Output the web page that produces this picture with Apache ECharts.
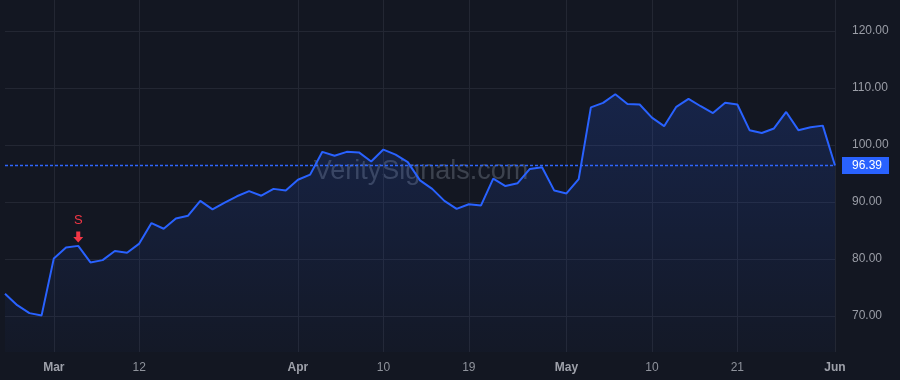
<!DOCTYPE html>
<html>
<head>
<meta charset="utf-8">
<style>
  html, body { margin: 0; padding: 0; background: #131722; }
  #chart { width: 900px; height: 380px; }
</style>
<script src="https://cdn.jsdelivr.net/npm/echarts@6/dist/echarts.min.js"></script>
</head>
<body>
<div id="chart"></div>
<script>
const dates = [
  '2024-02-26','2024-02-27','2024-02-28','2024-02-29',
  '2024-03-01','2024-03-04','2024-03-05','2024-03-06','2024-03-07','2024-03-08',
  '2024-03-11','2024-03-12','2024-03-13','2024-03-14','2024-03-15',
  '2024-03-18','2024-03-19','2024-03-20','2024-03-21','2024-03-22',
  '2024-03-25','2024-03-26','2024-03-27','2024-03-28',
  '2024-04-01','2024-04-02','2024-04-03','2024-04-04','2024-04-05',
  '2024-04-08','2024-04-09','2024-04-10','2024-04-11','2024-04-12',
  '2024-04-15','2024-04-16','2024-04-17','2024-04-18','2024-04-19',
  '2024-04-22','2024-04-23','2024-04-24','2024-04-25','2024-04-26',
  '2024-04-29','2024-04-30',
  '2024-05-01','2024-05-02','2024-05-03',
  '2024-05-06','2024-05-07','2024-05-08','2024-05-09','2024-05-10',
  '2024-05-13','2024-05-14','2024-05-15','2024-05-16','2024-05-17',
  '2024-05-20','2024-05-21','2024-05-22','2024-05-23','2024-05-24',
  '2024-05-28','2024-05-29','2024-05-30','2024-05-31',
  '2024-06-03'
];

const prices = [
  73.9, 71.9, 70.5, 70.1,
  80.1, 82.0, 82.3, 79.4, 79.8, 81.4,
  81.1, 82.7, 86.3, 85.3, 87.1,
  87.6, 90.2, 88.7, 89.9, 91.0,
  91.9, 91.1, 92.3, 92.0,
  93.9, 94.8, 98.8, 98.1, 98.8,
  98.7, 97.1, 99.2, 98.3, 97.0,
  93.8, 92.3, 90.2, 88.8, 89.6,
  89.4, 94.1, 92.8, 93.3, 95.8,
  96.1, 92.0,
  91.5, 94.0, 106.6,
  107.4, 108.9, 107.2, 107.1, 104.8,
  103.3, 106.7, 108.1, 106.8, 105.6,
  107.4, 107.1, 102.6, 102.1, 102.9,
  105.8, 102.6, 103.1, 103.4,
  96.39
];

const xTickDates  = ['2024-03-01','2024-03-12','2024-04-01','2024-04-10','2024-04-19','2024-05-01','2024-05-10','2024-05-21','2024-06-03'];
const xTickLabels = ['Mar','12','Apr','10','19','May','10','21','Jun'];
const monthLabels = ['Mar','Apr','May','Jun'];

const yTicks = [70, 80, 90, 100, 110, 120];
const yMin = 63.68;
const yMax = 125.44;

const signalDate = '2024-03-05';
const signalText = 'S';

const watermark = 'VeritySignals.com';

const lastPrice = prices[prices.length - 1];
const signalIdx = dates.indexOf(signalDate);

const FONT = "'Liberation Sans', Arial, sans-serif";

const chart = echarts.init(document.getElementById('chart'), null, { renderer: 'canvas' });

const isTick = (idx, val) => xTickDates.indexOf(val) !== -1;

chart.setOption({
  backgroundColor: '#131722',
  animation: false,
  textStyle: { fontFamily: FONT },
  grid: { left: 5, right: 65, top: 0, bottom: 28, containLabel: false },
  graphic: [{
    type: 'text',
    x: 421,
    y: 172,
    z: 0,
    style: {
      text: watermark,
      fontSize: 27,
      fontFamily: FONT,
      fill: 'rgba(130,136,150,0.38)',
      textAlign: 'center',
      textVerticalAlign: 'middle'
    }
  }],
  xAxis: {
    type: 'category',
    data: dates,
    boundaryGap: false,
    axisLine: { show: false },
    axisTick: { show: false, interval: isTick },
    splitLine: { show: true, interval: isTick, lineStyle: { color: '#232733', width: 1 } },
    axisLabel: {
      interval: isTick,
      margin: 10,
      formatter: function (val) {
        const i = xTickDates.indexOf(val);
        if (i === -1) return '';
        const t = xTickLabels[i];
        return monthLabels.indexOf(t) !== -1 ? '{m|' + t + '}' : '{d|' + t + '}';
      },
      rich: {
        m: { fontSize: 12, fontWeight: 'bold', color: '#9ea1aa', fontFamily: FONT },
        d: { fontSize: 12, color: '#8f939c', fontFamily: FONT }
      }
    }
  },
  yAxis: {
    type: 'value',
    position: 'right',
    min: yMin,
    max: yMax,
    axisLine: { show: false },
    axisTick: { show: false, customValues: yTicks },
    splitLine: { show: true, lineStyle: { color: '#232733', width: 1 } },
    axisLabel: {
      customValues: yTicks,
      margin: 17,
      align: 'left',
      color: '#9a9da6',
      fontSize: 12,
      fontFamily: FONT,
      formatter: v => v.toFixed(2)
    }
  },
  series: [{
    type: 'line',
    data: prices,
    symbol: 'none',
    lineStyle: { color: '#2962ff', width: 2 },
    itemStyle: { color: '#2962ff' },
    areaStyle: {
      color: new echarts.graphic.LinearGradient(0, 0, 0, 1, [
        { offset: 0, color: 'rgba(41,98,255,0.25)' },
        { offset: 1, color: 'rgba(41,98,255,0.03)' }
      ])
    },
    markLine: {
      silent: true,
      symbol: ['none', 'none'],
      lineStyle: { color: '#2f66ff', width: 1.3, type: [3, 2], opacity: 1 },
      label: {
        show: true,
        position: 'end',
        distance: 7,
        formatter: p => Number(p.value).toFixed(2),
        color: '#ffffff',
        fontSize: 12,
        fontFamily: FONT,
        backgroundColor: '#2962ff',
        padding: [3, 7, 2, 10]
      },
      emphasis: { disabled: true },
      data: [{ yAxis: lastPrice }]
    },
    markPoint: {
      silent: true,
      symbol: 'path://M3,0 L7,0 L7,5 L10,5 L5,10 L0,5 L3,5 Z',
      symbolSize: [10, 11],
      symbolOffset: [0, -9],
      itemStyle: { color: '#f23645' },
      label: {
        show: true,
        position: 'top',
        distance: 4,
        formatter: signalText,
        color: '#f23645',
        fontSize: 13,
        fontFamily: FONT
      },
      data: [{ coord: [signalDate, prices[signalIdx]] }]
    }
  }]
});
</script>
</body>
</html>
